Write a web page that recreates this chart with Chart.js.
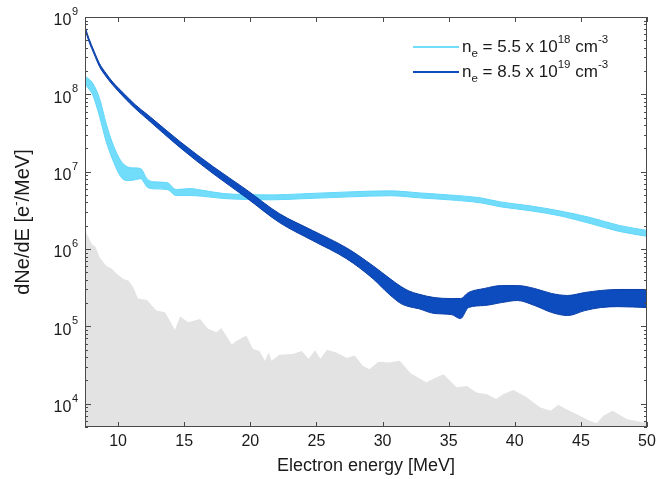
<!DOCTYPE html>
<html>
<head>
<meta charset="utf-8">
<script src="https://cdn.jsdelivr.net/npm/chart.js@4/dist/chart.umd.min.js"></script>
<style>
  html, body { margin: 0; padding: 0; background: #ffffff; }
  #wrap { width: 668px; height: 479px; }
</style>
</head>
<body>
<div id="wrap"><canvas id="c" width="668" height="479"></canvas></div>
<script>
// ---------- data ----------
const xTicks = [10, 15, 20, 25, 30, 35, 40, 45, 50];
const yTickExponents = [4, 5, 6, 7, 8, 9];
const xTitle = 'Electron energy [MeV]';
const yTitleParts = ['dNe/dE [e', '-', '/MeV]'];

// light blue band: n_e = 5.5 x 10^18 cm^-3
const cyanEnergy = [7.5, 7.8, 8.1, 8.6, 9.1, 9.6, 10.2, 10.7, 11.2, 11.7, 12.2, 12.7, 13.7, 14.4, 15.4, 16.4, 18.0, 19.7, 21.7, 23.8, 27.5, 30.6, 32.8, 35.0, 37.4, 38.9, 41.2, 43.4, 45.7, 47.9, 50.0];
const cyanUpper = [1.72e8, 1.57e8, 1.38e8, 8.85e7, 4.2e7, 2.29e7, 1.39e7, 1.16e7, 1.12e7, 1.10e7, 8.05e6, 7.40e6, 7.24e6, 5.87e6, 6.05e6, 5.74e6, 5.21e6, 5.06e6, 5.01e6, 5.16e6, 5.48e6, 5.65e6, 5.32e6, 5.01e6, 4.59e6, 4.07e6, 3.61e6, 3.11e6, 2.56e6, 2.02e6, 1.74e6];
const cyanLower = [1.36e8, 1.17e8, 9.66e7, 5.16e7, 2.45e7, 1.42e7, 8.63e6, 7.66e6, 7.80e6, 8.13e6, 6.34e6, 6.01e6, 5.89e6, 4.91e6, 4.92e6, 4.80e6, 4.50e6, 4.37e6, 4.33e6, 4.46e6, 4.73e6, 4.88e6, 4.59e6, 4.33e6, 3.96e6, 3.52e6, 3.12e6, 2.69e6, 2.14e6, 1.69e6, 1.46e6];

// dark blue band: n_e = 8.5 x 10^19 cm^-3
const darkEnergy = [7.5, 7.8, 8.2, 8.6, 9.1, 9.6, 10.5, 11.3, 12.2, 14.7, 17.2, 19.7, 22.2, 24.7, 27.3, 29.3, 30.5, 31.4, 32.0, 32.7, 33.9, 35.2, 35.9, 36.5, 37.7, 39.0, 40.2, 41.5, 42.8, 44.0, 45.3, 46.5, 47.8, 50.0];
const darkUpper = [7.53e8, 5.27e8, 3.58e8, 2.50e8, 1.86e8, 1.44e8, 1.00e8, 7.35e7, 5.51e7, 2.44e7, 1.16e7, 5.86e6, 2.87e6, 1.74e6, 1.03e6, 6.04e5, 4.22e5, 3.27e5, 2.87e5, 2.62e5, 2.36e5, 2.29e5, 2.29e5, 2.74e5, 3.09e5, 3.37e5, 3.37e5, 3.09e5, 2.66e5, 2.51e5, 2.74e5, 2.91e5, 3.00e5, 3.00e5];
const darkLower = [6.87e8, 4.81e8, 3.27e8, 2.28e8, 1.69e8, 1.32e8, 8.95e7, 6.55e7, 4.80e7, 2.04e7, 9.4e6, 4.61e6, 2.20e6, 1.29e6, 7.45e5, 4.10e5, 2.60e5, 1.97e5, 1.80e5, 1.70e5, 1.47e5, 1.42e5, 1.26e5, 1.75e5, 1.86e5, 2.03e5, 2.16e5, 1.86e5, 1.51e5, 1.38e5, 1.60e5, 1.75e5, 1.80e5, 1.75e5];

// grey background spectrum
const greyEnergy = [7.5, 7.7, 8.0, 8.3, 8.6, 9.1, 9.5, 9.9, 10.4, 10.8, 11.15, 11.5, 12.2, 12.55, 12.9, 13.55, 13.9, 14.3, 14.7, 15.3, 16.2, 16.8, 17.45, 17.8, 18.2, 18.6, 18.97, 19.7, 20.2, 20.7, 21.1, 21.4, 21.6, 22.2, 23.2, 23.9, 24.4, 24.9, 25.3, 25.8, 26.5, 27.3, 27.9, 28.5, 29.0, 29.7, 30.5, 31.3, 32.1, 33.3, 34.6, 35.6, 36.4, 37.1, 37.9, 38.6, 39.1, 39.9, 40.9, 41.9, 42.7, 43.3, 43.9, 44.7, 45.7, 46.2, 46.7, 47.4, 48.5, 49.2, 49.7, 50.0];
const greyLevel = [1.74e6, 1.5e6, 1.17e6, 1.06e6, 7.85e5, 6.1e5, 5.6e5, 4.8e5, 4.1e5, 3.9e5, 3.2e5, 2.3e5, 2.2e5, 1.86e5, 1.6e5, 1.52e5, 1.19e5, 9.0e4, 1.34e5, 1.13e5, 1.25e5, 9.3e4, 8.4e4, 9.5e4, 7.5e4, 5.8e4, 6.5e4, 7.6e4, 5.1e4, 4.8e4, 3.6e4, 4.6e4, 3.6e4, 4.3e4, 4.4e4, 4.8e4, 3.8e4, 4.9e4, 3.8e4, 5.0e4, 4.6e4, 3.9e4, 4.2e4, 3.1e4, 2.8e4, 3.5e4, 3.4e4, 3.6e4, 2.5e4, 1.9e4, 2.4e4, 1.63e4, 1.7e4, 1.4e4, 1.33e4, 1.15e4, 1.33e4, 1.5e4, 1.21e4, 9.0e3, 8.1e3, 9.7e3, 8.5e3, 7.3e3, 6.0e3, 5.6e3, 7.0e3, 8.1e3, 6.3e3, 6.0e3, 5.7e3, 6.2e3];

const legendEntries = [
  { base: '5.5 x 10', exp: '18', color: '#72dcfb' },
  { base: '8.5 x 10', exp: '19', color: '#0c4cbf' }
];

// ---------- styles ----------
const FONT = '"Liberation Sans", Arial, Helvetica, sans-serif';
const AXIS_COLOR = '#4a4a4a';
const TEXT_COLOR = '#1a1a1a';

function pts(xs, ys) { return xs.map((x, i) => ({ x: x, y: ys[i] })); }

const matlabAxes = {
  id: 'matlabAxes',
  afterDatasetsDraw(chart) {
    const ctx = chart.ctx;
    const a = chart.chartArea;
    const xs = chart.scales.x, ys = chart.scales.y;
    ctx.save();
    ctx.strokeStyle = AXIS_COLOR;
    ctx.lineWidth = 1;
    ctx.strokeRect(Math.round(a.left) + 0.5, Math.round(a.top) + 0.5, Math.round(a.right - a.left) - 1, Math.round(a.bottom - a.top) - 1);
    ctx.beginPath();
    xTicks.forEach(v => {
      const px = Math.round(xs.getPixelForValue(v)) + 0.5;
      ctx.moveTo(px, a.bottom); ctx.lineTo(px, a.bottom - 5);
      ctx.moveTo(px, a.top); ctx.lineTo(px, a.top + 5);
    });
    for (let e = 3; e <= 9; e++) {
      for (let m = 1; m <= 9; m++) {
        const v = m * Math.pow(10, e);
        if (v < ys.min || v > ys.max) continue;
        const py = Math.round(ys.getPixelForValue(v)) + 0.5;
        const len = (m === 1) ? 6 : 3;
        ctx.moveTo(a.left, py); ctx.lineTo(a.left + len, py);
        ctx.moveTo(a.right, py); ctx.lineTo(a.right - len, py);
      }
    }
    ctx.stroke();

    ctx.fillStyle = TEXT_COLOR;
    ctx.textBaseline = 'middle';
    ctx.textAlign = 'center';
    ctx.font = '16px ' + FONT;
    xTicks.forEach(v => ctx.fillText(String(v), xs.getPixelForValue(v), a.bottom + 15));

    yTickExponents.forEach(e => {
      const py = ys.getPixelForValue(Math.pow(10, e));
      ctx.textAlign = 'right';
      ctx.font = '11px ' + FONT;
      const supW = ctx.measureText(String(e)).width;
      ctx.fillText(String(e), 78, py - 5);
      ctx.font = '16px ' + FONT;
      ctx.fillText('10', 78 - supW - 0.5, py + 4);
    });

    ctx.textAlign = 'center';
    ctx.font = '18px ' + FONT;
    ctx.fillText(xTitle, (a.left + a.right) / 2, 466);

    // y title (rotated, with superscript minus)
    ctx.save();
    ctx.translate(23, (a.top + a.bottom) / 2);
    ctx.rotate(-Math.PI / 2);
    ctx.textAlign = 'left';
    const big = '20px ' + FONT, small = '13px ' + FONT;
    ctx.font = big;
    const w0 = ctx.measureText(yTitleParts[0]).width;
    const w2 = ctx.measureText(yTitleParts[2]).width;
    ctx.font = small;
    const w1 = ctx.measureText(yTitleParts[1]).width;
    const x0 = -(w0 + w1 + w2) / 2;
    ctx.font = big;
    ctx.fillText(yTitleParts[0], x0, 0);
    ctx.font = small;
    ctx.fillText(yTitleParts[1], x0 + w0, -7);
    ctx.font = big;
    ctx.fillText(yTitleParts[2], x0 + w0 + w1, 0);
    ctx.restore();

    // legend
    const rows = [47, 72];
    legendEntries.forEach((en, i) => {
      const y = rows[i];
      ctx.strokeStyle = en.color;
      ctx.lineWidth = 2;
      ctx.beginPath();
      ctx.moveTo(413, y); ctx.lineTo(459, y);
      ctx.stroke();
      ctx.fillStyle = TEXT_COLOR;
      ctx.textAlign = 'left';
      let x = 462;
      const main = '17px ' + FONT, sup = '11.5px ' + FONT;
      ctx.font = main;
      ctx.fillText('n', x, y); x += ctx.measureText('n').width;
      ctx.font = sup;
      ctx.fillText('e', x, y + 7); x += ctx.measureText('e').width;
      ctx.font = main;
      const mid = ' = ' + en.base;
      ctx.fillText(mid, x, y); x += ctx.measureText(mid).width;
      ctx.font = sup;
      ctx.fillText(en.exp, x, y - 7); x += ctx.measureText(en.exp).width;
      ctx.font = main;
      ctx.fillText(' cm', x, y); x += ctx.measureText(' cm').width;
      ctx.font = sup;
      ctx.fillText('-3', x, y - 7);
    });
    ctx.restore();
  }
};

new Chart(document.getElementById('c'), {
  type: 'line',
  data: {
    datasets: [
      { label: 'background', data: pts(greyEnergy, greyLevel), borderColor: 'rgba(0,0,0,0)', borderWidth: 0,
        backgroundColor: '#e3e3e3', fill: 'start', pointRadius: 0, tension: 0, order: 5 },
      { label: 'cyanUpper', data: pts(cyanEnergy, cyanUpper), borderColor: '#62d6fa', borderWidth: 1,
        backgroundColor: '#72dcfb', fill: '+1', pointRadius: 0, cubicInterpolationMode: 'monotone', order: 4 },
      { label: 'cyanLower', data: pts(cyanEnergy, cyanLower), borderColor: '#62d6fa', borderWidth: 1,
        fill: false, pointRadius: 0, cubicInterpolationMode: 'monotone', order: 3 },
      { label: 'darkUpper', data: pts(darkEnergy, darkUpper), borderColor: '#0a3fa8', borderWidth: 1,
        backgroundColor: '#0c4cbf', fill: '+1', pointRadius: 0, cubicInterpolationMode: 'monotone', order: 2 },
      { label: 'darkLower', data: pts(darkEnergy, darkLower), borderColor: '#0a3fa8', borderWidth: 1,
        fill: false, pointRadius: 0, cubicInterpolationMode: 'monotone', order: 1 }
    ]
  },
  options: {
    responsive: false,
    animation: false,
    devicePixelRatio: 1,
    layout: { padding: { top: 17, right: 21, bottom: 0, left: 0 } },
    plugins: { legend: { display: false }, tooltip: { enabled: false } },
    scales: {
      x: {
        type: 'linear', min: 7.5, max: 50,
        grid: { display: false }, border: { display: false },
        ticks: { display: false },
        afterFit(s) { s.height = 52; }
      },
      y: {
        type: 'logarithmic', min: 5000, max: 1e9,
        grid: { display: false }, border: { display: false },
        ticks: { display: false },
        afterFit(s) { s.width = 85; }
      }
    }
  },
  plugins: [matlabAxes]
});
</script>
</body>
</html>
